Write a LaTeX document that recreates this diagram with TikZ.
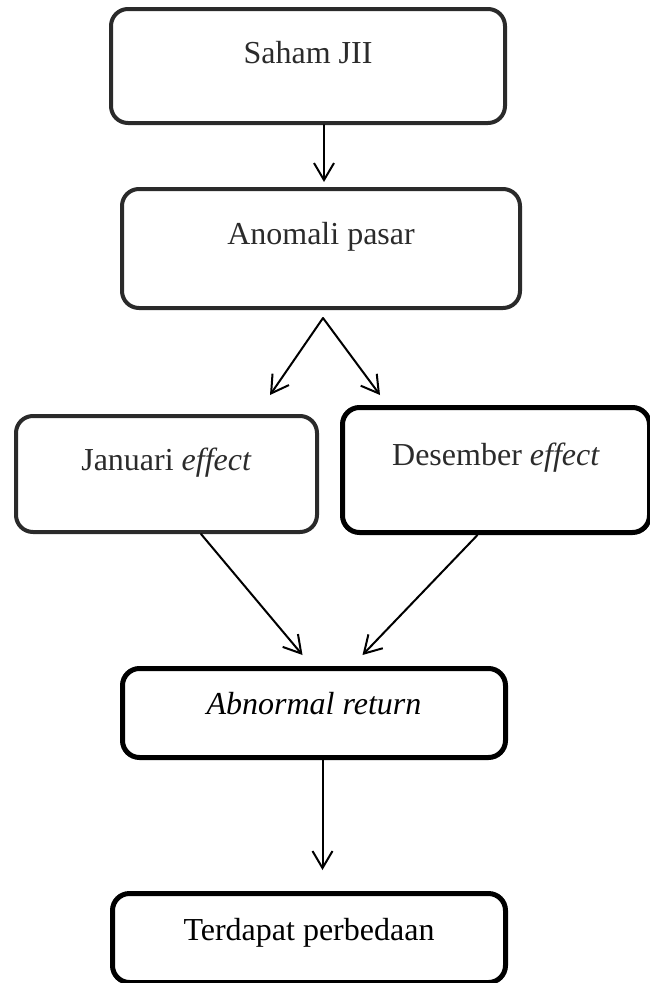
\documentclass[tikz,border=0pt]{standalone}
\usepackage{fontspec}
\setmainfont{Liberation Serif}
\usetikzlibrary{arrows.meta}
\definecolor{boxgray}{HTML}{2A2A2A}
\definecolor{txtgray}{HTML}{2B2B2B}
\tikzset{
  flowbox/.style={draw=boxgray, line width=4pt, rounded corners=17pt,
    inner xsep=0pt, inner ysep=0pt, anchor=north west, align=center,
    text=txtgray, font=\fontsize{32}{38}\selectfont},
  darkbox/.style={flowbox, draw=black, line width=5pt},
  arr/.style={line width=2pt, line cap=round,
    -{Straight Barb[length=17pt,width=20pt]}}
}
\begin{document}
\begin{tikzpicture}[x=1pt,y=-1pt]
\useasboundingbox (0,0) rectangle (650,983);

\node[flowbox, minimum width=394pt, text height=54pt, text depth=60pt]
  (saham) at (109,7) {Saham JII};
\node[flowbox, minimum width=398pt, text height=55pt, text depth=64pt]
  (anomali) at (120,187) {Anomali pasar};
\node[flowbox, minimum width=301pt, text height=54pt, text depth=62pt]
  (januari) at (14,414) {Januari \textit{effect}};
\node[darkbox, minimum width=307pt, text height=58pt, text depth=67pt]
  (desember) at (340,405) {Desember \textit{effect}};
\node[darkbox, text=black, minimum width=383pt, text height=46pt, text depth=43pt]
  (abnormal) at (120,666) {\textit{Abnormal return}};
\node[darkbox, text=black, minimum width=393pt, text height=47pt, text depth=42pt]
  (terdapat) at (110,891) {Terdapat perbedaan};

\coordinate (apex) at (323,318);
\coordinate (tipL) at (270,395);
\coordinate (tipR) at (380,395);

\draw[arr] ([xshift=16pt]saham.south) -- ([xshift=3pt,yshift=5pt]anomali.north);
\draw[arr] (apex) -- (tipL);
\draw[arr] (apex) -- (tipR);
\draw[arr] ([xshift=34.5pt]januari.south) -- ([xshift=-11.5pt,yshift=11pt]abnormal.north);
\draw[arr] ([xshift=-18.5pt]desember.south) -- ([xshift=48.5pt,yshift=11pt]abnormal.north);
\draw[arr] ([xshift=8.5pt]abnormal.south) -- ([xshift=13.5pt,yshift=21pt]terdapat.north);
\end{tikzpicture}
\end{document}
